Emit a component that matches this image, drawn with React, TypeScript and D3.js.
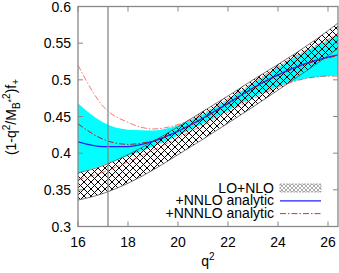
import React from "react";
import * as d3 from "d3";

const qPts = [16, 17, 18, 19, 20, 21, 22, 23, 24, 25, 26, 26.4];
const loNloTop = [0.373, 0.383, 0.398, 0.416, 0.436, 0.457, 0.478, 0.5, 0.521, 0.543, 0.567, 0.5775];
const loNloBot = [0.336, 0.345, 0.359, 0.377, 0.398, 0.419, 0.441, 0.463, 0.486, 0.509, 0.533, 0.543];
const nnloTop = [0.468, 0.442, 0.432, 0.431, 0.438, 0.453, 0.473, 0.495, 0.517, 0.537, 0.554, 0.562];
const nnloBot = [0.373, 0.384, 0.396, 0.409, 0.424, 0.44, 0.458, 0.476, 0.491, 0.501, 0.505, 0.506];
const nnloCentral = [0.4155, 0.409, 0.409, 0.416, 0.43, 0.448, 0.468, 0.489, 0.507, 0.521, 0.531, 0.534];
const n3loUpper = [0.52, 0.464, 0.442, 0.433, 0.439, 0.454, 0.474, 0.496, 0.518, 0.538, 0.555, 0.563];
const n3loCentral = [0.44, 0.419, 0.412, 0.417, 0.43, 0.447, 0.467, 0.488, 0.506, 0.52, 0.53, 0.533];
const n3loLower = [0.364, 0.374, 0.388, 0.404, 0.421, 0.438, 0.456, 0.474, 0.49, 0.501, 0.505, 0.505];
const xTicks = [16, 18, 20, 22, 24, 26];
const yTicks = [0.3, 0.35, 0.4, 0.45, 0.5, 0.55, 0.6];
const yTickLabels = ["0.3", "0.35", "0.4", "0.45", "0.5", "0.55", "0.6"];
const vLineQ = 17.2;
const legendLabels = ["LO+NLO", "+NNLO analytic", "+NNNLO analytic"];

const W = 339;
const H = 273;
const L = 78, R = 338, T = 6.5, B = 226.5;
const FONT = "'Liberation Sans', Arial, sans-serif";

export default function App() {
  const x = d3.scaleLinear().domain([16, 26.4]).range([L, R]);
  const y = d3.scaleLinear().domain([0.3, 0.6]).range([B, T]);
  const curve = d3.curveMonotoneX;
  const band = (top: number[], bot: number[]) =>
    d3.area<number>().x((_, i) => x(qPts[i])).y0((_, i) => y(bot[i])).y1((_, i) => y(top[i])).curve(curve)(qPts) || "";
  const line = (vals: number[]) =>
    d3.line<number>().x((_, i) => x(qPts[i])).y((_, i) => y(vals[i])).curve(curve)(qPts) || "";
  const border = "#888";
  const red = "#ff2020";
  const dash = "6,2,1.5,2";
  const tk = 5;
  return (
    <svg width={W} height={H} style={{ position: "absolute", left: 0, top: 0, background: "#fff" }} fontFamily={FONT}>
      <defs>
        <pattern id="hatch" patternUnits="userSpaceOnUse" width={7} height={7}>
          <path d="M0,0L7,7M0,7L7,0" stroke="#000" strokeWidth={1} />
        </pattern>
        <pattern id="hatchLeg" patternUnits="userSpaceOnUse" width={4} height={4}>
          <path d="M0,0L4,4M0,4L4,0" stroke="#777" strokeWidth={0.6} />
        </pattern>
        <clipPath id="plot">
          <rect x={L} y={T} width={R - L} height={B - T} />
        </clipPath>
      </defs>
      <g clipPath="url(#plot)">
        <path d={band(nnloTop, nnloBot)} fill="#00ffff" />
        <path d={band(loNloTop, loNloBot)} fill="url(#hatch)" />
        <path d={line(loNloTop)} fill="none" stroke="#555" strokeWidth={0.8} />
        <path d={line(loNloBot)} fill="none" stroke="#555" strokeWidth={0.8} />
        <path d={line(nnloCentral)} fill="none" stroke="#2020ff" strokeWidth={1.2} />
        <path d={line(n3loUpper)} fill="none" stroke={red} strokeWidth={0.8} strokeDasharray={dash} opacity={0.8} />
        <path d={line(n3loLower)} fill="none" stroke={red} strokeWidth={0.8} strokeDasharray={dash} opacity={0.8} />
        <path d={line(n3loCentral)} fill="none" stroke="#cc0000" strokeWidth={0.9} strokeDasharray={dash} />
      </g>
      <line x1={x(vLineQ)} x2={x(vLineQ)} y1={T} y2={B} stroke={border} strokeWidth={1.3} />
      <rect x={L} y={T} width={R - L} height={B - T} fill="none" stroke={border} strokeWidth={1.3} />
      {xTicks.map((t) => (
        <g key={"x" + t}>
          <line x1={x(t)} x2={x(t)} y1={B} y2={B - tk} stroke={border} />
          <line x1={x(t)} x2={x(t)} y1={T} y2={T + tk} stroke={border} />
          <text x={x(t)} y={246.5} fontSize={14} textAnchor="middle" fill="#000">{t}</text>
        </g>
      ))}
      {yTicks.map((t, i) => (
        <g key={"y" + t}>
          <line x1={L} x2={L + tk} y1={y(t)} y2={y(t)} stroke={border} />
          <line x1={R} x2={R - tk} y1={y(t)} y2={y(t)} stroke={border} />
          <text x={71} y={y(t) + 5} fontSize={14} textAnchor="end" fill="#000">{yTickLabels[i]}</text>
        </g>
      ))}
      <text x={208} y={266} fontSize={14} textAnchor="middle" fill="#000">
        q<tspan fontSize={10} dy={-6}>2</tspan>
      </text>
      <text transform="translate(16,117) rotate(-90)" fontSize={14} textAnchor="middle" fill="#000">
        (1-q<tspan fontSize={10} dy={-6}>2</tspan>
        <tspan dy={6}>/M</tspan>
        <tspan fontSize={10} dy={4}>B</tspan>
        <tspan fontSize={9} dy={-6}>*</tspan>
        <tspan fontSize={10} dy={-4}>2</tspan>
        <tspan dy={6}>)f</tspan>
        <tspan fontSize={10} dy={3}>+</tspan>
      </text>
      {legendLabels.map((lab, i) => {
        const cy = 188 + i * 12.8;
        return (
          <g key={lab}>
            <text x={274} y={cy + 4.5} fontSize={14} textAnchor="end" fill="#000">{lab}</text>
            {i === 0 && (
              <rect x={280} y={cy - 4} width={41} height={8} fill="url(#hatchLeg)" stroke="#999" strokeWidth={0.8} strokeDasharray="2,1" />
            )}
            {i === 1 && <line x1={280} x2={321} y1={cy} y2={cy} stroke="#2020ff" strokeWidth={1.2} />}
            {i === 2 && <line x1={280} x2={321} y1={cy} y2={cy} stroke={red} strokeWidth={1} strokeDasharray={dash} />}
          </g>
        );
      })}
    </svg>
  );
}
